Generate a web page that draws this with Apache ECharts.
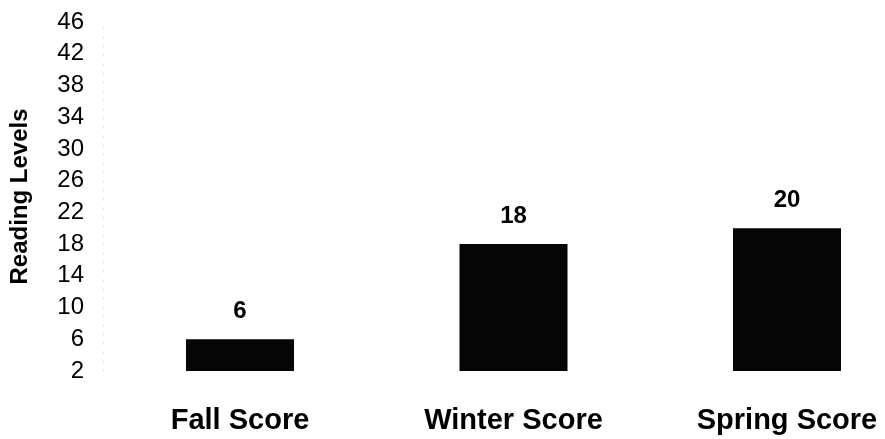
<!DOCTYPE html>
<html>
<head>
    <meta charset="utf-8">
    <title>Reading Levels</title>
    <script src="https://cdn.jsdelivr.net/npm/echarts@6/dist/echarts.min.js"></script>
    <style>
        html, body { margin: 0; padding: 0; background: #fff; }
    </style>
</head>
<body>
<div id="main" style="width: 885px;height:439px;"></div>
<script type="text/javascript">
    // chart data
    const categories = ['Fall Score', 'Winter Score', 'Spring Score'];
    const scores = [6, 18, 20];
    const yMin = 2, yMax = 46, yStep = 4;

    const myChart = echarts.init(document.getElementById('main'));
    const font = 'Liberation Sans, Arial, sans-serif';

    const option = {
        backgroundColor: '#fff',
        animation: false,
        grid: { left: 237, right: 98, top: 22, bottom: 68 },
        xAxis: {
            type: 'category',
            data: categories,
            boundaryGap: false,
            axisLine: { show: false },
            axisTick: { show: false },
            splitLine: { show: false },
            axisLabel: {
                margin: 35,
                color: '#000',
                fontFamily: font,
                fontWeight: 'bold',
                fontSize: 29
            }
        },
        yAxis: {
            type: 'value',
            min: yMin,
            max: yMax,
            interval: yStep,
            offset: 137,
            name: 'Reading Levels',
            nameLocation: 'middle',
            nameGap: 71,
            nameTextStyle: {
                color: '#000',
                fontFamily: font,
                fontWeight: 'bold',
                fontSize: 24
            },
            axisLine: { show: true, lineStyle: { color: '#ddd', type: [1, 8], width: 1 } },
            axisTick: { show: false },
            splitLine: { show: false },
            axisLabel: {
                margin: 19,
                color: '#000',
                fontFamily: font,
                fontSize: 24
            }
        },
        series: [
            {
                type: 'bar',
                data: scores,
                barWidth: 108,
                itemStyle: { color: '#050505' },
                label: {
                    show: true,
                    position: 'top',
                    distance: 16,
                    color: '#000',
                    fontFamily: font,
                    fontWeight: 'bold',
                    fontSize: 24
                }
            }
        ]
    };
    myChart.setOption(option);
</script>
</body>
</html>
